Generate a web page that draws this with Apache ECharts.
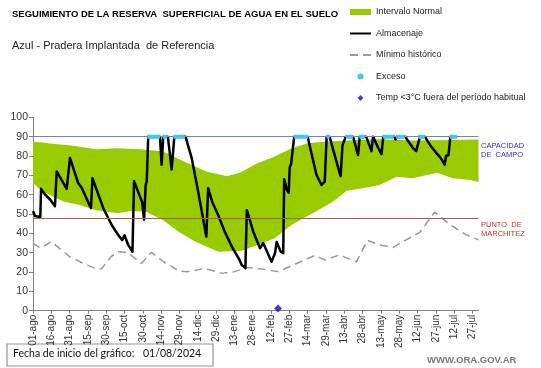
<!DOCTYPE html>
<html><head><meta charset="utf-8">
<script src="https://cdn.jsdelivr.net/npm/echarts@6/dist/echarts.min.js"></script>
<style>html,body{margin:0;padding:0;background:#fff;}#c{width:541px;height:368px;}</style>
</head><body><div id="c"></div>
<script>
// ---- Data ----
const tickLabels = ['01-ago','16-ago','31-ago','15-sep','30-sep','15-oct','30-oct','14-nov','29-nov','14-dic','29-dic','13-ene','28-ene','12-feb','27-feb','14-mar','29-mar','13-abr','28-abr','13-may','28-may','12-jun','27-jun','12-jul','27-jul'];
const tickStep = 15; // days between ticks, day 0 = 01/08/2024
const totalDays = 365;

const upperDays = [0,14,33,52,69,88,106,116,126,142,159,170,183,197,212,225,239,257,284,311,339,365];
const upperVals = [87.5,86.5,85.3,83.5,84,83.5,82.5,79.5,76.5,72,69.5,71.5,76,79.5,84,86.6,87.4,88,88.7,88,88.3,88.5];

const lowerDays = [0,8,25,38,52,69,80,93,106,120,133,152,171,184,198,212,225,235,246,257,270,284,298,311,331,344,358,365];
const lowerVals = [66,61.5,56.5,54.7,52,50.4,51.6,51,47,40.5,35.7,30.5,31,34,37.5,44.5,49,52.5,56.5,62,63.3,65,69.3,68.5,71.3,68.5,67.6,66.5];

const minDays = [0,6,15,30,41,52,56,64,70,77,89,97,107,120,127,141,155,165,176,187,201,212,231,239,251,265,274,284,295,303,317,329,342,355,365];
const minVals = [35,32.3,35.7,28,24.5,21.6,21.6,28,30.5,30.2,24.5,30.2,25.3,20.5,20.2,21.9,19.3,20.2,22.3,21.6,20.2,23.3,28.6,26.2,28.8,25.3,36.4,34,32.7,35.7,40.5,51,44.3,39.2,36.6];

const storDays = [0,1.6,3,6,6.6,10,14,18,19.4,27.6,30.3,37,40,47.5,48.7,57.6,64.5,70,73,75,78,81.5,82.8,89.5,91,92.3,93.2,94.4,104,105.4,106.7,110.5,113.6,115.8,125,127,130,135.3,142,143.5,147,151.7,157,163,169,171,174,175.2,180.4,186,188.6,195.4,198.3,199.6,203,205,205.8,208,209.5,210.3,211.5,214,225,226.8,232.3,236.4,239,240.6,243,246,252,253.6,256.3,262.2,266.3,267.7,273,277.3,278.6,283,285.5,287,296,297,298,305,306.5,311.4,314,315.6,317,321,326,330.5,334,337.3,338.4,340.4,342,347];
const storVals = [51.5,49,48.5,48.5,63,60,57.5,54,72,63,79,66,63.5,53,68.5,53,44.3,39,36.5,39,34,30.5,67,56,47,65,67,90,90,75.5,90,90,73,90,90,85.5,79,61.6,38.3,63.3,56,49.5,41,33,26.5,23.6,22,52,41,32.3,35,25.3,29.7,35.5,30.5,29.7,68,62.5,61,74,76,90,90,85,70.2,65,66.7,90,90,83,69.5,85.7,90,90,80.5,90,90,82.5,90,84,81,90,90,88.5,90,90,88.5,84,82.5,82,90,90,85,81.5,79,75.5,80,80.5,90,90];

const excesoSegments = [[93.6,104],[106.2,110],[115,124.5],[214,225.4],[240.6,243],[256.3,262.2],[267.4,272],[286.8,295.5],[297.5,304.6],[315.7,321],[341.5,347]];
const excesoLevel = 90;
const tempPoints = [[200.8,1.2]];
const capacidadCampo = 90;
const puntoMarchitez = 48;

// ---- Chart ----
const FONT = "'Liberation Sans', Arial, sans-serif";
const chart = echarts.init(document.getElementById('c'), null, {renderer:'canvas'});
const tickVals = tickLabels.map((_, i) => i * tickStep);
const pair = (xs, ys) => xs.map((x, i) => [x, ys[i]]);
const excesoData = [];
excesoSegments.forEach(s => { excesoData.push([s[0], excesoLevel], [s[1], excesoLevel], [s[1], '-']); });

const option = {
  animation: false,
  backgroundColor: '#fff',
  textStyle: {fontFamily: FONT},
  grid: {left: 33, top: 117.3, right: 62.5, bottom: 57.3, containLabel: false, outerBoundsMode: 'none'},
  xAxis: {
    type: 'value', min: 0, max: totalDays,
    axisLine: {lineStyle: {color: '#808080', width: 1}},
    axisTick: {customValues: tickVals, length: 3, lineStyle: {color: '#808080'}},
    axisLabel: {customValues: tickVals, rotate: 90, margin: 4, fontSize: 10, color: '#333',
      fontFamily: "'Liberation Sans Narrow','Liberation Sans',sans-serif",
      formatter: v => tickLabels[Math.round(v / tickStep)] || ''},
    splitLine: {show: false}
  },
  yAxis: {
    type: 'value', min: 0, max: 100, interval: 10,
    name: 'Milímetros', nameLocation: 'middle', nameGap: 15, nameRotate: 90,
    nameTextStyle: {fontSize: 6.5, fontWeight: 'bold', color: '#222', fontFamily: FONT},
    axisLine: {show: true, lineStyle: {color: '#808080'}},
    axisTick: {show: true, length: 4, lineStyle: {color: '#808080'}},
    axisLabel: {fontSize: 10.5, color: '#333', margin: 5, fontFamily: FONT},
    splitLine: {show: false}
  },
  legend: {
    orient: 'vertical', left: 344, top: 2, itemWidth: 21, itemHeight: 6, itemGap: 11.5,
    selectedMode: false, symbolKeepAspect: true,
    textStyle: {fontSize: 9, color: '#222', lineHeight: 10, fontFamily: FONT},
    data: [
      {name: 'Intervalo Normal', icon: 'rect'},
      {name: 'Almacenaje', itemStyle: {opacity: 0}},
      {name: 'Mínimo histórico', itemStyle: {opacity: 0}},
      {name: 'Exceso', icon: 'circle'},
      {name: 'Temp <3°C fuera del período habitual', icon: 'path://M5,0L10,5L5,10L0,5Z'}
    ]
  },
  series: [
    {
      name: 'Intervalo Normal', type: 'custom', z: 1, silent: true,
      itemStyle: {color: '#99CC00'},
      encode: {x: 0, y: 1},
      data: pair(upperDays, upperVals),
      renderItem: function (params, api) {
        if (params.dataIndex !== 0) return null;
        const pts = [];
        for (let i = 0; i < upperDays.length; i++) pts.push(api.coord([upperDays[i], upperVals[i]]));
        for (let i = lowerDays.length - 1; i >= 0; i--) pts.push(api.coord([lowerDays[i], lowerVals[i]]));
        return {type: 'polygon', shape: {points: pts}, style: {fill: '#99CC00'}};
      }
    },
    {
      name: 'Mínimo histórico', type: 'line', z: 2, symbol: 'none', silent: true,
      data: pair(minDays, minVals),
      lineStyle: {color: '#9a9a9a', width: 1.5, type: [8, 5]},
      itemStyle: {color: '#9a9a9a'}
    },
    {
      name: 'refs', type: 'line', z: 3, data: [], silent: true,
      markLine: {
        silent: true, symbol: 'none', animation: false,
        label: {show: false},
        data: [
          {yAxis: capacidadCampo, lineStyle: {color: '#7080D0', width: 1, type: 'solid'}},
          {yAxis: puntoMarchitez, lineStyle: {color: '#B05858', width: 1, type: 'solid'}}
        ]
      }
    },
    {
      name: 'Almacenaje', type: 'line', z: 4, symbol: 'none', silent: true,
      data: pair(storDays, storVals),
      lineStyle: {color: '#000', width: 2.5, join: 'round'},
      itemStyle: {color: '#000'}
    },
    {
      name: 'Exceso', type: 'line', z: 5, symbol: 'none', silent: true, connectNulls: false,
      data: excesoData,
      lineStyle: {color: '#3EC8EE', width: 4, cap: 'butt'},
      itemStyle: {color: '#3EC8EE'}
    },
    {
      name: 'Temp <3°C fuera del período habitual', type: 'scatter', z: 6, silent: true,
      symbol: 'diamond', symbolSize: 8,
      data: tempPoints,
      itemStyle: {color: '#1010C8'}
    }
  ],
  graphic: [
    {type: 'text', left: 12, top: 9, style: {text: 'SEGUIMIENTO DE LA RESERVA  SUPERFICIAL DE AGUA EN EL SUELO', font: 'bold 9.5px ' + FONT, fill: '#000'}},
    {type: 'text', left: 12, top: 40, style: {text: 'Azul - Pradera Implantada  de Referencia', font: '11px ' + FONT, fill: '#222'}},
    {type: 'text', left: 481, top: 141, style: {text: 'CAPACIDAD\nDE  CAMPO', font: '7.5px ' + FONT, fill: '#3030B8', lineHeight: 9.5}},
    {type: 'text', left: 481, top: 220, style: {text: 'PUNTO  DE\nMARCHITEZ', font: '7.5px ' + FONT, fill: '#C83030', lineHeight: 9.5}},
    {type: 'rect', shape: {x: 7, y: 344, width: 206, height: 22}, style: {fill: '#fff', stroke: '#9E8F8F', lineWidth: 1.2}},
    {type: 'text', left: 13, top: 348.5, style: {text: 'Fecha de inicio del gráfico:', font: '10.5px Lato, sans-serif', fill: '#111'}},
    {type: 'text', left: 143, top: 348.5, style: {text: '01/08/2024', font: '10.5px Lato, sans-serif', fill: '#111'}},
    {type: 'text', left: 427, top: 355, style: {text: 'WWW.ORA.GOV.AR', font: 'bold 9.5px ' + FONT, fill: '#7a7a7a'}}
  ]
};
chart.setOption(option);
</script>
</body></html>
